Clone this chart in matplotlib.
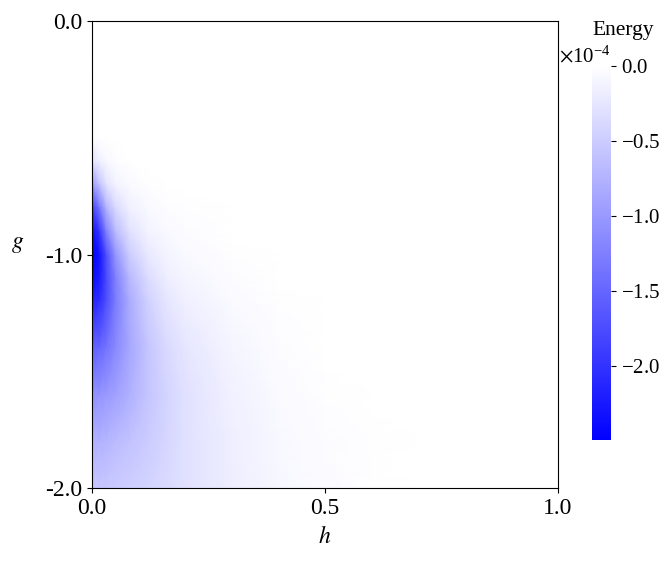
import matplotlib
matplotlib.use("Agg")
import matplotlib.pyplot as plt
import numpy as np
from matplotlib.colors import LinearSegmentedColormap
from matplotlib.ticker import ScalarFormatter

plt.rcParams['font.family'] = ['Liberation Serif', 'DejaVu Serif']
plt.rcParams['mathtext.fontset'] = 'stix'

# grid points
h_vals = [0, 0.015, 0.03, 0.05, 0.08, 0.12, 0.16, 0.2, 0.3, 0.4, 0.5, 0.6, 0.7, 1.0]
g_vals = [0, -0.5, -0.6, -0.7, -0.8, -0.9, -1.0, -1.1, -1.2, -1.4, -1.6, -1.8, -2.0]

# energy in units of 1e-4, one row per g value
e_g00 = [0, 0, 0, 0, 0, 0, 0, 0, 0, 0, 0, 0, 0, 0]
e_g05 = [-0.02, -0.005, 0, 0, 0, 0, 0, 0, 0, 0, 0, 0, 0, 0]
e_g06 = [-0.30, -0.15, -0.075, -0.025, 0, 0, 0, 0, 0, 0, 0, 0, 0, 0]
e_g07 = [-1.0, -0.62, -0.30, -0.12, -0.05, -0.012, 0, 0, 0, 0, 0, 0, 0, 0]
e_g08 = [-1.87, -1.37, -0.75, -0.37, -0.15, -0.062, -0.025, -0.012, 0, 0, 0, 0, 0, 0]
e_g09 = [-2.32, -1.99, -1.25, -0.67, -0.30, -0.12, -0.062, -0.03, -0.007, 0, 0, 0, 0, 0]
e_g10 = [-2.49, -2.32, -1.74, -1.05, -0.50, -0.22, -0.11, -0.062, -0.017, 0, 0, 0, 0, 0]
e_g11 = [-2.37, -2.24, -1.79, -1.25, -0.70, -0.35, -0.17, -0.10, -0.03, -0.007, 0, 0, 0, 0]
e_g12 = [-2.12, -2.04, -1.74, -1.29, -0.82, -0.45, -0.25, -0.15, -0.05, -0.012, 0, 0, 0, 0]
e_g14 = [-1.54, -1.49, -1.37, -1.15, -0.87, -0.57, -0.37, -0.25, -0.10, -0.032, -0.007, 0, 0, 0]
e_g16 = [-1.07, -1.05, -1.0, -0.92, -0.77, -0.57, -0.42, -0.30, -0.14, -0.055, -0.017, -0.0025, 0, 0]
e_g18 = [-0.75, -0.75, -0.72, -0.67, -0.60, -0.50, -0.40, -0.30, -0.16, -0.075, -0.03, -0.01, 0, 0]
e_g20 = [-0.55, -0.55, -0.54, -0.51, -0.47, -0.42, -0.36, -0.30, -0.17, -0.087, -0.04, -0.015, -0.005, 0]

energy = np.array([e_g00, e_g05, e_g06, e_g07, e_g08, e_g09, e_g10,
                   e_g11, e_g12, e_g14, e_g16, e_g18, e_g20]) * 1e-4

x_ticks = [0.0, 0.5, 1.0]
x_ticklabels = ['0.0', '0.5', '1.0']
y_ticks = [0.0, -1.0, -2.0]
y_ticklabels = ['0.0', '-1.0', '-2.0']
cbar_ticks = [0.0, -0.5e-4, -1.0e-4, -1.5e-4, -2.0e-4]

cmap = LinearSegmentedColormap.from_list('wb', ['blue', 'white'])

fig = plt.figure(figsize=(6.72, 5.61), dpi=100)
ax = fig.add_axes([0.137, 0.130, 0.693, 0.8326])
cax = fig.add_axes([0.881, 0.2157, 0.0283, 0.6667])

H, G = np.meshgrid(h_vals, g_vals)
mesh = ax.pcolormesh(H, G, energy, shading='gouraud', cmap=cmap,
                     vmin=-2.49e-4, vmax=0.0, rasterized=True)

ax.set_xlim(0, 1)
ax.set_ylim(-2, 0)
ax.set_xticks(x_ticks)
ax.set_xticklabels(x_ticklabels)
ax.set_yticks(y_ticks)
ax.set_yticklabels(y_ticklabels)
ax.tick_params(labelsize=17)
ax.set_xlabel('$h$', fontsize=17, labelpad=5)
ax.set_ylabel('$g$', fontsize=17, rotation=0, labelpad=20)

# colorbar with x10^-4 offset on top
cbar = fig.colorbar(mesh, cax=cax)
cbar.outline.set_visible(False)
fmt = ScalarFormatter(useMathText=True)
fmt.set_powerlimits((0, 0))
cbar.formatter = fmt
cbar.set_ticks(cbar_ticks)
cbar.ax.tick_params(labelsize=15)
cbar.ax.yaxis.get_offset_text().set_fontsize(15)
cbar.ax.set_title('Energy', fontsize=15.5, pad=22, loc='left')

fig.savefig('out.png', dpi=100)
